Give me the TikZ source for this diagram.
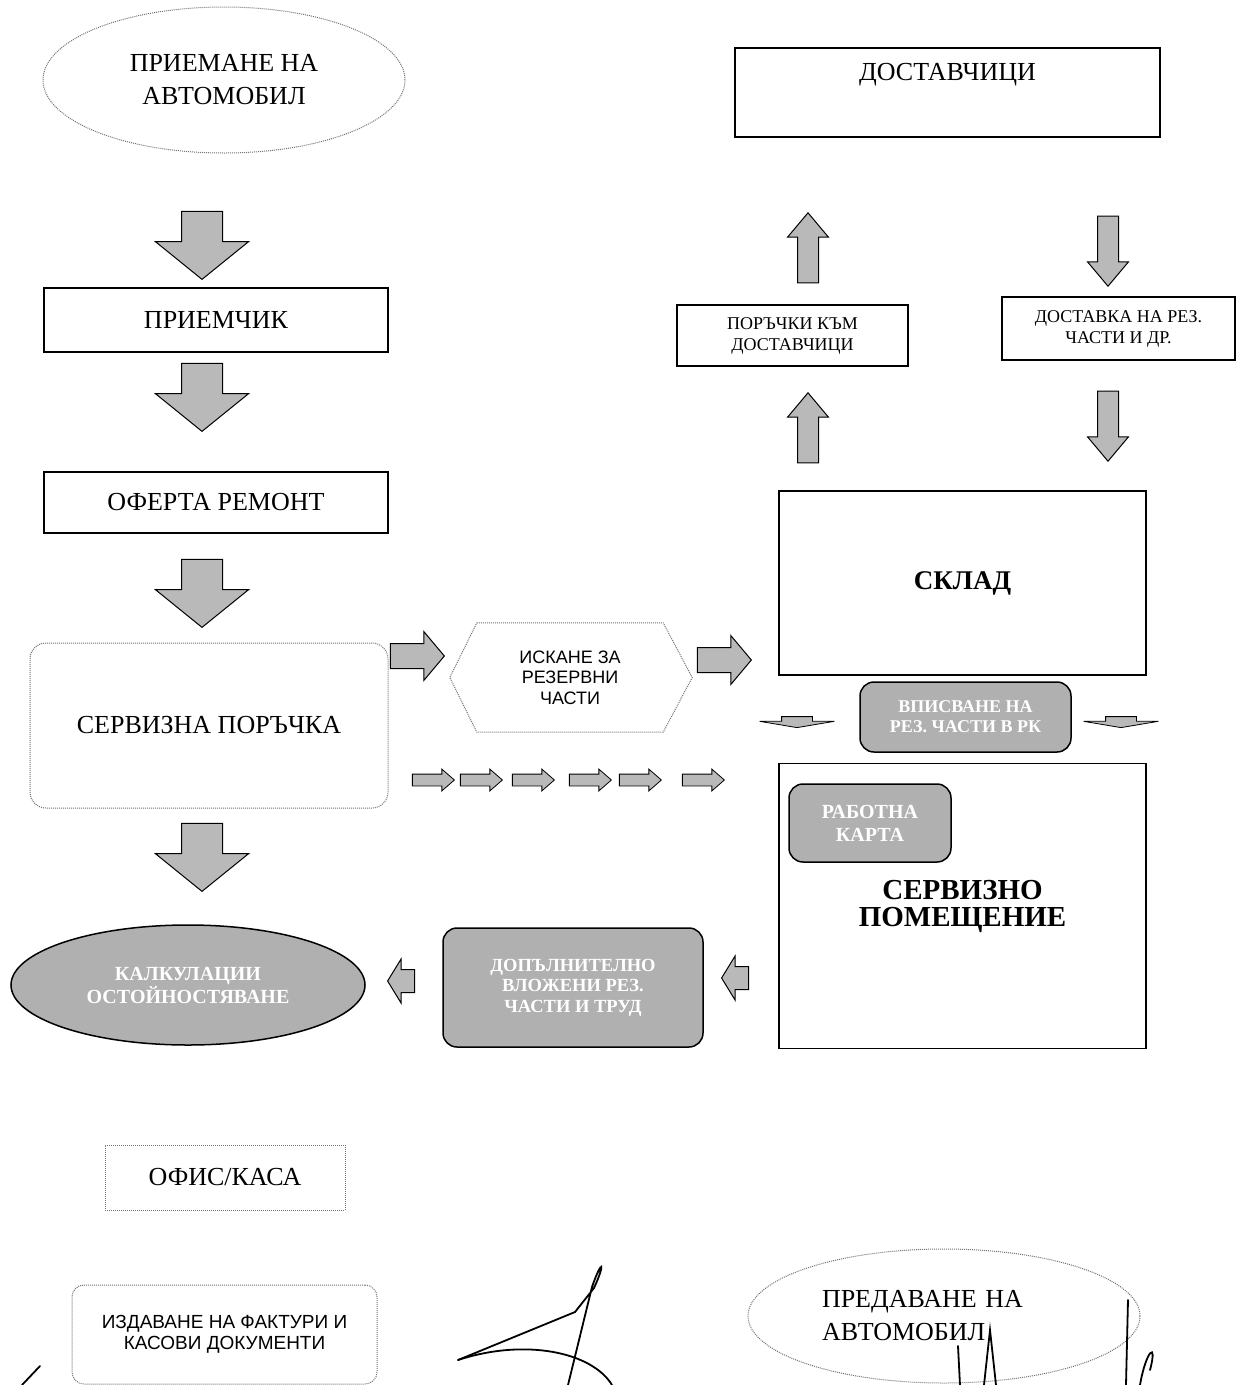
\documentclass[tikz,border=0pt]{standalone}
\usepackage{fontspec}
\setmainfont{Liberation Serif}
\newfontfamily\labelsans{Liberation Sans}
\usetikzlibrary{shapes.geometric,shapes.arrows,positioning}

\begin{document}
\begin{tikzpicture}[x=1pt,y=-1pt,
	box/.style={draw, line width=1.2pt, inner sep=0pt, align=center, font=\fontsize{26}{33}\selectfont},
	smallbox/.style={box, font=\fontsize{18}{21}\selectfont},
	dotbox/.style={draw=black!55, densely dotted, line width=1pt, inner sep=0pt, align=center, font=\fontsize{26}{33}\selectfont},
	darkbox/.style={draw, line width=1.5pt, fill=gray!62, rounded corners=14pt, inner sep=0pt, align=center, text=white, font=\bfseries\fontsize{18.5}{20.5}\selectfont},
	blockarrow/.style={single arrow, draw, line width=1pt, fill=gray!55, inner xsep=0pt, anchor=tip, minimum width=0pt},
	bigdown/.style={blockarrow, inner ysep=20pt, single arrow head extend=26pt, single arrow tip angle=102, minimum height=68pt, rotate=-90},
	midright/.style={blockarrow, inner ysep=12pt, single arrow head extend=12pt, single arrow tip angle=100, minimum height=54pt},
	tinyright/.style={blockarrow, line width=0.8pt, inner ysep=5.5pt, single arrow head extend=5pt, single arrow tip angle=82, minimum height=42pt},
	slimarrow/.style={blockarrow, inner ysep=10pt, single arrow head extend=10pt, single arrow tip angle=80, minimum height=70pt},
	smallleft/.style={blockarrow, inner ysep=11pt, single arrow head extend=10.5pt, single arrow tip angle=117, minimum height=27pt, rotate=180},
	flatdown/.style={blockarrow, line width=0.8pt, inner ysep=15pt, single arrow head extend=22pt, single arrow tip angle=161, minimum height=11pt, rotate=-90},
	signline/.style={line width=1.8pt, line cap=round}]
	\useasboundingbox (0,0) rectangle (1243,1385);

	\node (intake) [ellipse, dotbox, minimum width=362pt, minimum height=146pt] at (224,80) {ПРИЕМАНЕ НА\\АВТОМОБИЛ};
	\node (receiver) [box, minimum width=344pt, minimum height=64pt] at (216,320) {ПРИЕМЧИК};
	\node (offer) [box, minimum width=344pt, minimum height=61pt] at (216,502.5) {ОФЕРТА РЕМОНТ};
	\node (order) [dotbox, rounded corners=16pt, minimum width=358pt, minimum height=165pt] at (209,725.5) {СЕРВИЗНА ПОРЪЧКА};
	\node (costing) [ellipse, darkbox, minimum width=354pt, minimum height=120pt, font=\bfseries\fontsize{20}{23}\selectfont] at (188,985) {КАЛКУЛАЦИИ\\ОСТОЙНОСТЯВАНЕ};

	\node (dn1) [bigdown] at (202,280) {};
	\node (dn2) [bigdown] at (202,432) {};
	\node (dn3) [bigdown] at (202,628) {};
	\node (dn4) [bigdown] at (202,892) {};

	\node (suppliers) [box, minimum width=425pt, minimum height=89pt] at (947.5,92.5) {};
	\node (supplierstext) [below=16pt of suppliers.north, inner sep=0pt, font=\fontsize{26}{33}\selectfont] {ДОСТАВЧИЦИ};
	\node (purchase) [smallbox, minimum width=231pt, minimum height=61pt] at (792.5,335.5) {ПОРЪЧКИ КЪМ\\ДОСТАВЧИЦИ};
	\node (delivery) [smallbox, minimum width=233pt, minimum height=63pt] at (1118.5,328.5) {ДОСТАВКА НА РЕЗ.\\ЧАСТИ И ДР.};
	\node (up1) [slimarrow, rotate=90] at (808,212) {};
	\node (up2) [slimarrow, rotate=90] at (808,392) {};
	\node (down1) [slimarrow, rotate=-90] at (1108,287) {};
	\node (down2) [slimarrow, rotate=-90] at (1108,462) {};

	\node (store) [box, minimum width=367pt, minimum height=184pt, font=\bfseries\fontsize{27}{33}\selectfont] at (962.5,583) {СКЛАД};
	\node (issue) [darkbox, minimum width=211pt, minimum height=70pt, font=\bfseries\fontsize{18}{20}\selectfont] at (965.5,717) {ВПИСВАНЕ НА\\РЕЗ. ЧАСТИ В РК};
	\node (flat1) [flatdown] at (797,728) {};
	\node (flat2) [flatdown] at (1121,728) {};
	\node (workshop) [box, minimum width=367pt, minimum height=285pt, font=\bfseries\fontsize{29}{27}\selectfont] at (962.5,906) {СЕРВИЗНО\\ПОМЕЩЕНИЕ};
	\node (jobcard) [darkbox, minimum width=162pt, minimum height=78pt, font=\bfseries\fontsize{20}{23}\selectfont] at (870,823) {РАБОТНА\\КАРТА};

	\node (partsreq) [minimum width=186pt, minimum height=109pt, inner sep=0pt, align=center, font=\labelsans\fontsize{18}{20.5}\selectfont] at (570,677.5) {ИСКАНЕ ЗА\\РЕЗЕРВНИ\\ЧАСТИ};
	\draw [draw=black!55, densely dotted, line width=1pt] (partsreq.north west) -- (partsreq.north east) -- ([xshift=29pt]partsreq.east) -- (partsreq.south east) -- (partsreq.south west) -- ([xshift=-27pt]partsreq.west) -- cycle;
	\node (right1) [midright] at (445,656) {};
	\node (right2) [midright] at (752,660) {};
	\foreach \tx [count=\i] in {455,503,555,612,662,725}
		\node (row\i) [tinyright] at (\tx,780) {};

	\node (extra) [darkbox, minimum width=260pt, minimum height=119pt] at (573,987.5) {ДОПЪЛНИТЕЛНО\\ВЛОЖЕНИ РЕЗ.\\ЧАСТИ И ТРУД};
	\node (left1) [smallleft] at (387,981) {};
	\node (left2) [smallleft] at (721,978) {};

	\node (office) [dotbox, minimum width=240pt, minimum height=65pt] at (225,1177.5) {ОФИС/КАСА};
	\node (invoices) [dotbox, rounded corners=12pt, minimum width=305pt, minimum height=99pt, font=\labelsans\fontsize{19}{21}\selectfont] at (224.5,1334.5) {ИЗДАВАНЕ НА ФАКТУРИ И\\КАСОВИ ДОКУМЕНТИ};
	\node (handover) [ellipse, dotbox, minimum width=392pt, minimum height=134pt, text width=244pt, align=left] at (944,1316) {ПРЕДАВАНЕ НА\\АВТОМОБИЛ};

	\draw [signline] (22,1385) -- (40,1366);
	\draw [signline] (568,1385) -- (592,1287) .. controls (602,1258) and (606,1262) .. (594,1288) -- (575,1312) -- (458,1360);
	\draw [signline] (458,1360) .. controls (525,1338) and (592,1352) .. (612,1385);
	\draw [signline] (958,1346) -- (960,1385);
	\draw [signline] (984,1385) -- (990,1330) -- (996,1385);
	\draw [signline] (1128,1300) -- (1126,1385);
	\draw [signline] (1140,1385) .. controls (1146,1350) and (1158,1340) .. (1150,1370);
\end{tikzpicture}
\end{document}
